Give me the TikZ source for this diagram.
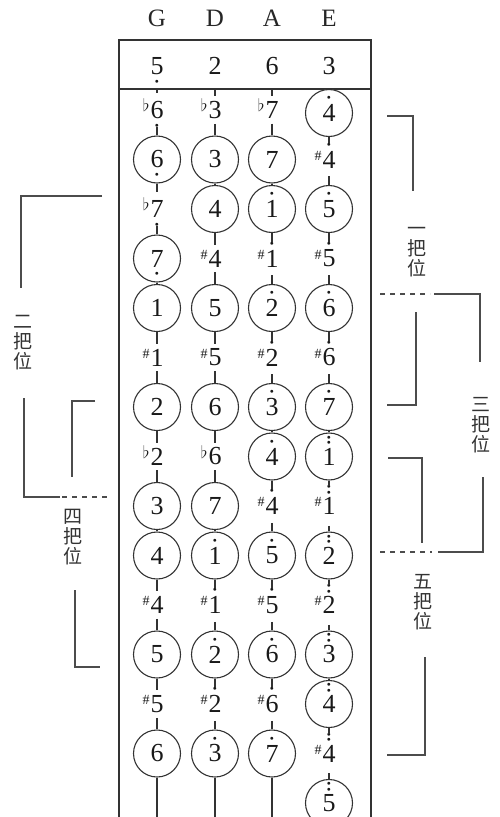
\documentclass[tikz,border=0pt]{standalone}
\usepackage{fontspec}
\setmainfont{Liberation Serif}
\newfontfamily\cjk{Noto Sans CJK SC}

% jianpu notes: octave dots and accidentals
\newcommand{\jdot}{{\fontsize{7}{7}\selectfont$\bullet$}}
\newcommand{\hi}[1]{#1\llap{\makebox[0.5em]{\smash{\raisebox{0.84em}{\jdot}}}}}
\newcommand{\hhi}[1]{#1\llap{\makebox[0.5em]{\smash{\raisebox{0.78em}{\jdot}}}}\llap{\makebox[0.5em]{\smash{\raisebox{1.0em}{\jdot}}}}}
\newcommand{\lo}[1]{#1\llap{\makebox[0.5em]{\smash{\raisebox{-0.34em}{\jdot}}}}}
\newcommand{\fl}{\llap{\smash{\raisebox{0.26em}{\fontsize{16}{16}\selectfont$\flat$}}\hspace{1pt}}}
\newcommand{\sh}{\llap{\smash{\raisebox{0.30em}{\fontsize{14}{14}\selectfont\#}}\hspace{1pt}}}
\newcommand{\notefont}{\fontsize{26}{28}\selectfont}

\begin{document}
\begin{tikzpicture}[x=1pt,y=-1pt,
  ring/.style={draw=black!80,fill=white,line width=1.1pt,circle,minimum size=47pt,inner sep=0pt,font=\notefont,text=black!90},
  tone/.style={inner xsep=1pt,inner ysep=5pt,font=\notefont,text=black!90},
  tonedot/.style={tone,inner ysep=8pt},
  tonedd/.style={tone,inner ysep=11pt},
  link/.style={draw=black!80,line width=1.1pt},
  board/.style={draw=black!80,line width=1.5pt},
  bracket/.style={draw=black!70,line width=1.4pt},
  dashline/.style={bracket,dash pattern=on 5pt off 5pt},
  posname/.style={font=\cjk\fontsize{19}{20}\selectfont,align=center,inner sep=0pt,text=black!80}]
\useasboundingbox (0,0) rectangle (500,817);
\clip (0,0) rectangle (500,817);

% fingerboard
\draw[board] (119,830) -- (119,40) -- (371,40) -- (371,830);
\draw[board] (119,89) -- (371,89);

% strings
\node[font=\fontsize{25}{27}\selectfont,text=black!85] (sG) at (157,18) {G};
\node[font=\fontsize{25}{27}\selectfont,text=black!85] (sD) at (215,18) {D};
\node[font=\fontsize{25}{27}\selectfont,text=black!85] (sA) at (272,18) {A};
\node[font=\fontsize{25}{27}\selectfont,text=black!85] (sE) at (329,18) {E};

% open strings
\node[tone] (oG) at (157,66) {\lo5};
\node[tone] (oD) at (215,66) {2};
\node[tone] (oA) at (272,66) {6};
\node[tone] (oE) at (329,66) {3};

% G string
\foreach \k/\t [count=\i] in {tonedot/\fl\lo6, ring/\lo6, tonedot/\fl\lo7, ring/\lo7, ring/1, tone/\sh1,
    ring/2, tone/\fl2, ring/3, ring/4, tone/\sh4, ring/5, tone/\sh5, ring/6}
  \node[\k] (G\i) at (157,{110+49.5*(\i-1)}) {\t};

% D string
\foreach \k/\t [count=\i] in {tone/\fl3, ring/3, ring/4, tone/\sh4, ring/5, tone/\sh5, ring/6,
    tone/\fl6, ring/7, ring/\hi1, tonedot/\sh\hi1, ring/\hi2, tonedot/\sh\hi2, ring/\hi3}
  \node[\k] (D\i) at (215,{110+49.5*(\i-1)}) {\t};

% A string
\foreach \k/\t [count=\i] in {tone/\fl7, ring/7, ring/\hi1, tonedot/\sh\hi1, ring/\hi2, tonedot/\sh\hi2, ring/\hi3,
    ring/\hi4, tonedot/\sh\hi4, ring/\hi5, tonedot/\sh\hi5, ring/\hi6, tonedot/\sh\hi6, ring/\hi7}
  \node[\k] (A\i) at (272,{110+49.5*(\i-1)}) {\t};

% E string
\node[ring] (E1) at (329,113) {\hi4};
\foreach \k/\t [count=\i from 2] in {tonedot/\sh\hi4, ring/\hi5, tonedot/\sh\hi5, ring/\hi6, tonedot/\sh\hi6, ring/\hi7,
    ring/\hhi1, tonedd/\sh\hhi1, ring/\hhi2, tonedd/\sh\hhi2, ring/\hhi3, ring/\hhi4, tonedd/\sh\hhi4, ring/\hhi5}
  \node[\k] (E\i) at (329,{110+49.5*(\i-1)}) {\t};

% links along the strings
\coordinate (G0) at (157,89);
\coordinate (D0) at (215,89);
\coordinate (A0) at (272,89);
\coordinate (Gend) at (157,830);
\coordinate (Dend) at (215,830);
\coordinate (Aend) at (272,830);
\foreach \s in {G,D,A}{
  \draw[link] (\s0) -- (\s1);
  \foreach \i [count=\j from 2] in {1,...,13}
    \draw[link] (\s\i) -- (\s\j);
  \draw[link] (\s14) -- (\s end);
}
\foreach \i [count=\j from 2] in {1,...,14}
  \draw[link] (E\i) -- (E\j);

% left: second and fourth position
\draw[bracket] (102,196) -- (21,196) -- (21,288);
\node[posname] (pos2) at (23,343) {二\\把\\位};
\draw[bracket] (24,398) -- (24,497) -- (60,497);
\draw[dashline] (62,497) -- (108,497);
\draw[bracket] (95,401) -- (72,401) -- (72,477);
\node[posname] (pos4) at (73,537) {四\\把\\位};
\draw[bracket] (75,590) -- (75,667) -- (100,667);

% right: first, third and fifth position
\draw[bracket] (387,116) -- (413,116) -- (413,191);
\node[posname] (pos1) at (417,252) {一\\把\\位};
\draw[bracket] (416,312) -- (416,405) -- (387,405);
\draw[dashline] (380,294) -- (430,294);
\draw[bracket] (434,294) -- (480,294) -- (480,362);
\node[posname] (pos3) at (481,425) {三\\把\\位};
\draw[bracket] (483,477) -- (483,552) -- (438,552);
\draw[dashline] (380,552) -- (432,552);
\draw[bracket] (388,458) -- (422,458) -- (422,543);
\node[posname] (pos5) at (423,602) {五\\把\\位};
\draw[bracket] (425,657) -- (425,755) -- (387,755);
\end{tikzpicture}
\end{document}
